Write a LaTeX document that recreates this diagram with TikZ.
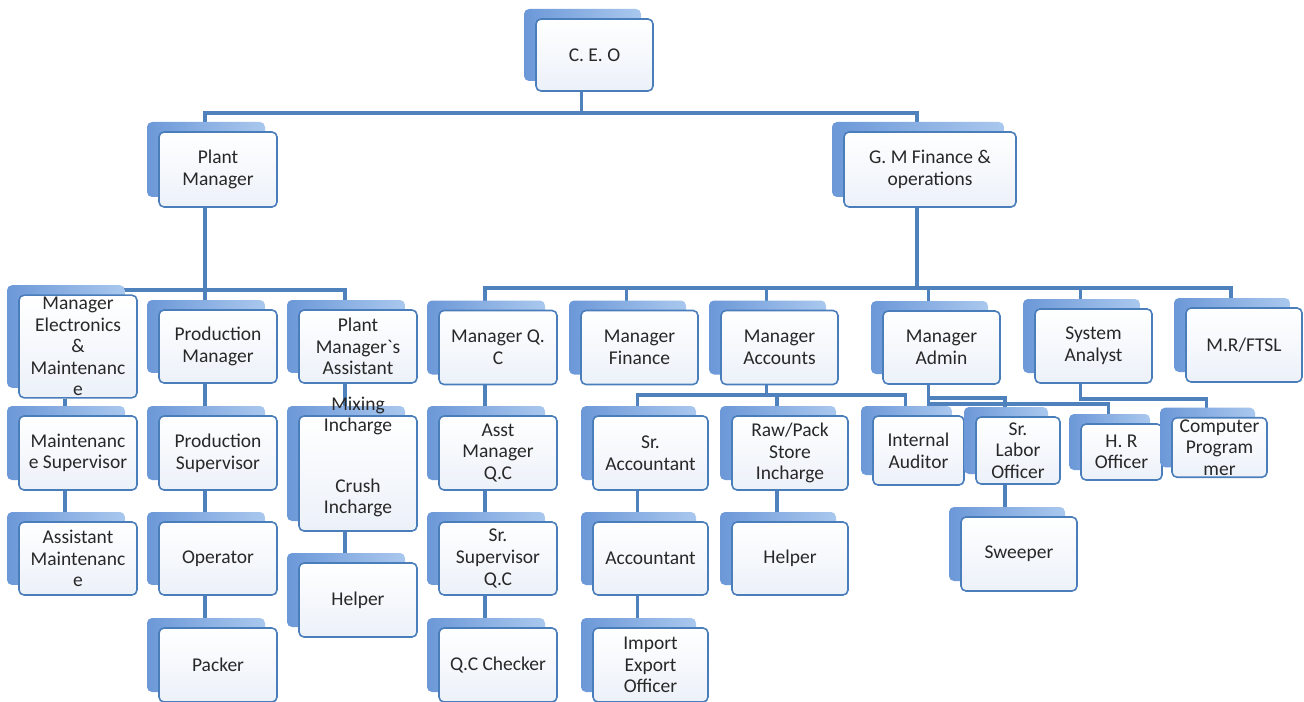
\documentclass[tikz,border=0pt]{standalone}
\usepackage{fontspec}
\setmainfont{Carlito}
\usetikzlibrary{backgrounds}

\definecolor{lineblue}{RGB}{79,129,189}
\definecolor{edgeblue}{RGB}{74,126,187}
\definecolor{backdark}{RGB}{108,152,216}
\definecolor{backlight}{RGB}{170,200,238}
\definecolor{facelow}{RGB}{236,241,249}
\definecolor{txtgray}{RGB}{40,40,40}

\tikzset{
  posttext/.style={text=txtgray, align=center, inner sep=0pt,
    font=\fontsize{11.1}{12.3}\selectfont},
  post/.style={posttext, draw=edgeblue, line width=0.9pt, rounded corners=0.1cm,
    top color=white, bottom color=facelow, inner sep=1pt,
    minimum width=2.36cm, minimum height=1.46cm,
    preaction={draw=none, left color=backdark, right color=backlight,
      transform canvas={xshift=-0.24cm, yshift=0.2cm}}},
  wh/.style 2 args={minimum width=#1*0.02cm, minimum height=#2*0.02cm},
  conn/.style={draw=lineblue, line width=2pt},
}
\def\off{-0.26cm}

\begin{document}
\begin{tikzpicture}[x=0.02cm, y=-0.02cm]
  \useasboundingbox (0,0) rectangle (1304,702);
  % top
  \node[post, wh={117}{72}] (ceo) at (594.5,55) {C. E. O};
  \node[post, wh={118}{75}] (plant) at (218,169.5) {Plant\\Manager};
  \node[post, wh={172}{75}] (gm) at (930,169.5) {G. M Finance \&\\operations};
  % plant side
  \node[post] (elec) at (78,346.5) {Manager\\Electronics\\\&\\Maintenanc\\e};
  \node[post] (prodmgr) at (218,346.5) {Production\\Manager};
  \node[post] (pmasst) at (358,346.5) {Plant\\Manager\textasciigrave s\\Assistant};
  \node[post, wh={118}{74}] (mntsup) at (78,453) {Maintenanc\\e Supervisor};
  \node[post, wh={118}{74}] (prodsup) at (218,453) {Production\\Supervisor};
  \node[post, wh={118}{115}] (mixbox) at (358,473.5) {};
  \node[posttext] (mixtxt) at (358,457) {Mixing\\Incharge\\[0.77cm]Crush\\Incharge};
  \node[post] (asstmnt) at (78,558.5) {Assistant\\Maintenanc\\e};
  \node[post] (operator) at (218,558.5) {Operator};
  \node[post, wh={118}{74}] (helper1) at (358,600) {Helper};
  \node[post, wh={118}{74}] (packer) at (218,665) {Packer};
  % finance side
  \node[post, wh={118}{74}] (mgrqc) at (498,347.5) {Manager Q.\\C};
  \node[post, wh={117}{74}] (mgrfin) at (639.5,347.5) {Manager\\Finance};
  \node[post, wh={117}{74}] (mgracc) at (779.5,347.5) {Manager\\Accounts};
  \node[post, wh={117}{73}] (mgradm) at (941.5,347.5) {Manager\\Admin};
  \node[post, wh={117}{74}] (sysan) at (1093.5,346) {System\\Analyst};
  \node[post, wh={116}{74}] (mrftsl) at (1244,345) {M.R/FTSL};
  \node[post, wh={118}{74}] (asstqc) at (498,453) {Asst\\Manager\\Q.C};
  \node[post, wh={115}{74}] (sracc) at (650.5,453) {Sr.\\Accountant};
  \node[post, wh={116}{74}] (rawpack) at (790,453) {Raw/Pack\\Store\\Incharge};
  \node[post, wh={91}{69}] (intaud) at (918.5,450.5) {Internal\\Auditor};
  \node[post, wh={84}{67}] (srlab) at (1018,450.5) {Sr.\\Labor\\Officer};
  \node[post, wh={81}{56}] (hrof) at (1121.5,452) {H. R\\Officer};
  \node[post, wh={95}{55}] (comprog) at (1219.5,447.5) {Computer\\Program\\mer};
  \node[post] (srsupqc) at (498,558.5) {Sr.\\Supervisor\\Q.C};
  \node[post, wh={115}{73}] (accnt) at (650.5,558.5) {Accountant};
  \node[post, wh={116}{73}] (helper2) at (790,558.5) {Helper};
  \node[post, wh={116}{74}] (sweeper) at (1019,554) {Sweeper};
  \node[post, wh={118}{74}] (qcchk) at (498,665) {Q.C Checker};
  \node[post, wh={115}{74}] (impexp) at (650.5,665) {Import\\Export\\Officer};

  \begin{scope}[on background layer]
    \fill[white] (0,0) rectangle (1304,702);
    % ceo
    \draw[conn] ([xshift=\off]ceo.south) -- ++(0,21) -| ([xshift=\off]plant.north);
    \draw[conn] ([xshift=\off]ceo.south) -- ++(0,21) -| ([xshift=\off]gm.north);
    % second level
    \foreach \n in {elec,prodmgr,pmasst}
      \draw[conn] ([xshift=\off]plant.south) -- ++(0,82) -| ([xshift=\off]\n.north);
    \foreach \n in {mgrqc,mgrfin,mgracc,mgradm,sysan,mrftsl}
      \draw[conn] ([xshift=\off]gm.south) -- ++(0,80) -| ([xshift=\off]\n.north);
    % accounts, admin, analyst
    \foreach \n in {sracc,rawpack,intaud}
      \draw[conn] ([xshift=\off]mgracc.south) -- ++(0,9.5) -| ([xshift=\off]\n.north);
    \draw[conn] ([xshift=\off]mgradm.south) -- ++(0,13) -| ([xshift=\off]srlab.north);
    \draw[conn] ([xshift=\off]mgradm.south) -- ++(0,19) -| ([xshift=\off]hrof.north);
    \draw[conn] ([xshift=\off]sysan.south) -- ++(0,15) -| ([xshift=\off]comprog.north);
    % straight chains
    \foreach \a/\b in {elec/mntsup, mntsup/asstmnt, prodmgr/prodsup, prodsup/operator,
        operator/packer, pmasst/mixbox, mixbox/helper1, mgrqc/asstqc, asstqc/srsupqc,
        srsupqc/qcchk, sracc/accnt, accnt/impexp, rawpack/helper2, srlab/sweeper}
      \draw[conn] ([xshift=\off]\a.south) -- ([xshift=\off]\a.south |- \b.north);
  \end{scope}
\end{tikzpicture}
\end{document}
